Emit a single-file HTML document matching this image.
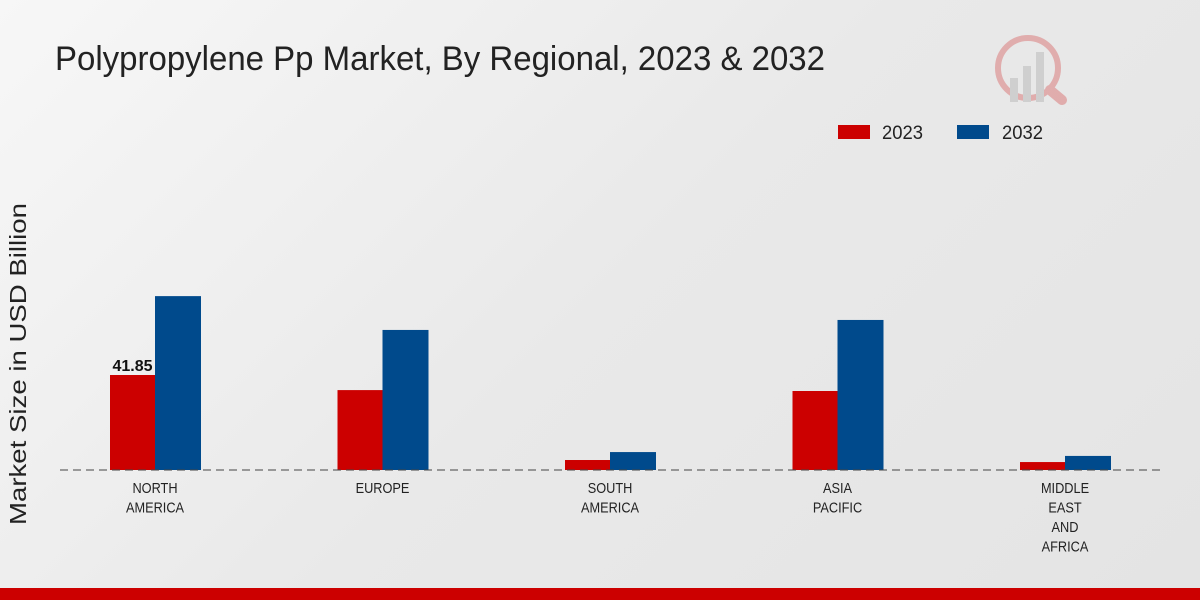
<!DOCTYPE html>
<html><head><meta charset="utf-8"><style>
html,body{margin:0;padding:0}
body{width:1200px;height:600px;overflow:hidden;background:linear-gradient(135deg,#f7f7f7 0%,#e9e9e9 50%,#e4e4e4 100%);font-family:"Liberation Sans",sans-serif;position:relative}
</style></head><body>
<svg id="chart" width="1200" height="600" style="position:absolute;left:0;top:0">
<text x="55" y="70" font-size="34" fill="#222" textLength="770" lengthAdjust="spacingAndGlyphs">Polypropylene Pp Market, By Regional, 2023 &amp; 2032</text>
<g opacity="0.25">
<circle cx="1028" cy="68" r="30" fill="none" stroke="#c00" stroke-width="6"/>
<rect x="1010" y="78" width="8" height="24" fill="#888"/><rect x="1023" y="66" width="8" height="36" fill="#888"/><rect x="1036" y="52" width="8" height="50" fill="#888"/>
<line x1="1050" y1="90" x2="1062" y2="100" stroke="#c00" stroke-width="10" stroke-linecap="round"/>
</g>
<text transform="translate(26,364) rotate(-90)" text-anchor="middle" font-size="23" fill="#222" textLength="322" lengthAdjust="spacingAndGlyphs">Market Size in USD Billion</text>
<g>
<rect x="838" y="125" width="32" height="14" fill="#cc0000"/>
<text x="882" y="139" font-size="19" fill="#222" textLength="41" lengthAdjust="spacingAndGlyphs">2023</text>
<rect x="957" y="125" width="32" height="14" fill="#004a8c"/>
<text x="1002" y="139" font-size="19" fill="#222" textLength="41" lengthAdjust="spacingAndGlyphs">2032</text>
</g>
<g id="bars"></g>
<line x1="60" y1="470" x2="1160" y2="470" stroke="#444" stroke-width="1" stroke-dasharray="8,5"/>
<g id="xlabels"></g>
<rect x="0" y="588" width="1200" height="12" fill="#cc0000"/>
</svg>
<script>
const categories=[["NORTH","AMERICA"],["EUROPE"],["SOUTH","AMERICA"],["ASIA","PACIFIC"],["MIDDLE","EAST","AND","AFRICA"]];
const values2023=[41.85,35.2,4.4,34.8,3.5];
const values2032=[76.6,61.7,7.9,66.1,6.2];
const valueLabels=["41.85","","","",""];
const NS="http://www.w3.org/2000/svg";
const baseY=470, scale=95/41.85;
function yPos(v){return baseY-v*scale;}
function xCenter(i){return 155+i*227.5;}
const bars=document.getElementById('bars'), xl=document.getElementById('xlabels');
categories.forEach((c,i)=>{
  const cx=xCenter(i);
  [[values2023[i],'#cc0000',cx-45,'2023'],[values2032[i],'#004a8c',cx,'2032']].forEach(([v,col,x,s])=>{
    const r=document.createElementNS(NS,'rect');
    r.setAttribute('x',x);r.setAttribute('y',yPos(v));r.setAttribute('width',46);r.setAttribute('height',baseY-yPos(v));r.setAttribute('fill',col);
    
    
    bars.appendChild(r);
  });
  if(valueLabels[i]){
    const t=document.createElementNS(NS,'text');
    t.setAttribute('x',cx-22.5);t.setAttribute('y',yPos(values2023[i])-4);t.setAttribute('text-anchor','middle');
    t.setAttribute('font-size','16');t.setAttribute('font-weight','bold');t.setAttribute('fill','#111');
    t.textContent=valueLabels[i];
    
    
    bars.appendChild(t);
  }
  c.forEach((line,j)=>{
    const t=document.createElementNS(NS,'text');
    t.setAttribute('transform','translate('+cx+','+(493+j*19.5)+') scale(0.85,1)');
    t.setAttribute('text-anchor','middle');
    t.setAttribute('font-size','15');t.setAttribute('fill','#222');
    t.textContent=line;
    
    
    xl.appendChild(t);
  });
});
</script>
</body></html>
